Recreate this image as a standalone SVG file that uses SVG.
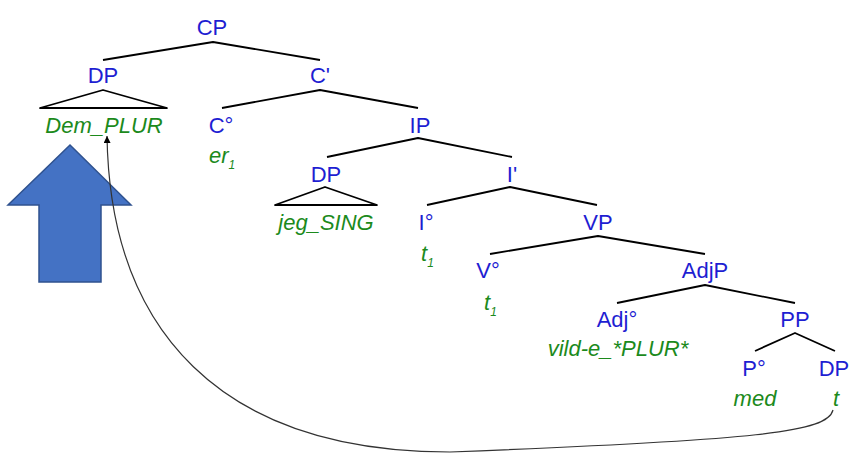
<svg xmlns="http://www.w3.org/2000/svg" width="849" height="454" viewBox="0 0 849 454">
<style>
text{font-family:"Liberation Sans",Arial,sans-serif;font-size:22px}
.cat{fill:#1e1ed2;text-anchor:middle}
.term{fill:#1c8a1c;font-style:italic;text-anchor:middle}
.term.s{text-anchor:start}
.sub{font-size:12px}
.br{fill:none;stroke:#000;stroke-width:1.8;stroke-linejoin:round}
.mv{fill:none;stroke:#333;stroke-width:1.2}
</style>
<defs>
<marker id="ah" viewBox="0 0 10 10" refX="10" refY="5" markerWidth="7" markerHeight="7" markerUnits="userSpaceOnUse" orient="auto">
<path d="M0,0 L10,5 L0,10 z" fill="#000"/>
</marker>
</defs>
<g id="bigArrow">
<polygon points="70,145 131,205 101,205 101,282 39,282 39,205 8,205" fill="#4472c4" stroke="#2f528f" stroke-width="1.5"/>
</g>
<g id="branches">
<polyline class="br" points="103,60 213,42 320,60"/>
<polyline class="br" points="222,108 320,90 418,108"/>
<polygon class="br" points="40,108 103,90 167,108"/>
<polyline class="br" points="327,157 418,138 512,157"/>
<polygon class="br" points="275,205 325,187 377,205"/>
<polyline class="br" points="427,205 510,187 597,205"/>
<polyline class="br" points="490,254 598,236 705,254"/>
<polyline class="br" points="617,303 705,285 795,303"/>
<polyline class="br" points="755,351 795,333 835,351"/>
</g>
<g id="connectors">
<path class="mv" d="M833,410 C828,432 760,440 450,452 C220,452 110,330 107,136" marker-end="url(#ah)"/>
</g>
<g id="n-CP"><text class="cat" x="212" y="35">CP</text></g>
<g id="n-DP1"><text class="cat" x="103" y="83">DP</text><text class="term" x="104" y="133">Dem_PLUR</text></g>
<g id="n-C1"><text class="cat" x="320" y="83">C'</text></g>
<g id="n-C0"><text class="cat" x="221" y="133">C°</text><text class="term s" x="209" y="163">er<tspan class="sub" dy="6">1</tspan></text></g>
<g id="n-IP"><text class="cat" x="420" y="133">IP</text></g>
<g id="n-DP2"><text class="cat" x="326" y="182">DP</text><text class="term" x="326" y="230">jeg_SING</text></g>
<g id="n-I1"><text class="cat" x="512" y="182">I'</text></g>
<g id="n-I0"><text class="cat" x="426" y="230">I°</text><text class="term s" x="421" y="261">t<tspan class="sub" dy="6">1</tspan></text></g>
<g id="n-VP"><text class="cat" x="598" y="230">VP</text></g>
<g id="n-V0"><text class="cat" x="488" y="278">V°</text><text class="term s" x="484" y="310">t<tspan class="sub" dy="6">1</tspan></text></g>
<g id="n-AdjP"><text class="cat" x="705" y="278">AdjP</text></g>
<g id="n-Adj0"><text class="cat" x="617" y="327">Adj°</text><text class="term" x="618" y="356">vild-e_*PLUR*</text></g>
<g id="n-PP"><text class="cat" x="795" y="327">PP</text></g>
<g id="n-P0"><text class="cat" x="754" y="376">P°</text><text class="term" x="755" y="406">med</text></g>
<g id="n-DP3"><text class="cat" x="834" y="376">DP</text><text class="term" x="836" y="406">t</text></g>
</svg>
